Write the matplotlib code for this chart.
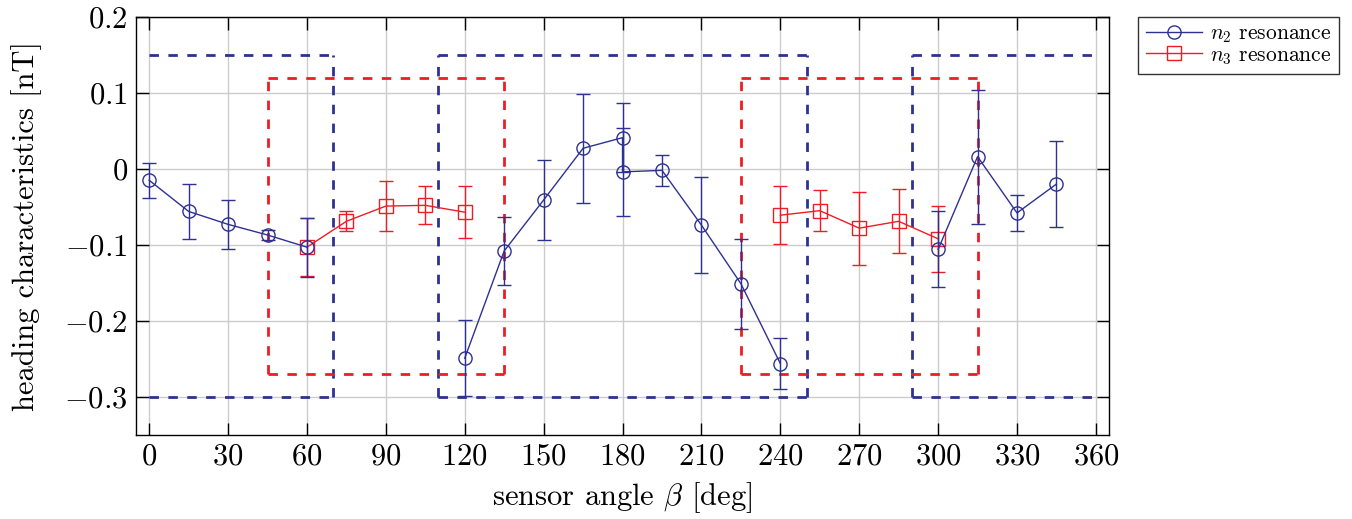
import numpy as np
import matplotlib
matplotlib.use("Agg")
import matplotlib.pyplot as plt
from matplotlib.lines import Line2D

plt.rcParams['font.family'] = ['cmr10', 'DejaVu Serif']
plt.rcParams['mathtext.fontset'] = 'cm'
plt.rcParams['axes.unicode_minus'] = False

# ---- data ----
n2_angle = [0, 15, 30, 45, 60, 75, 90, 105, 120, 135, 150, 165, 180, 180, 195,
            210, 225, 240, 255, 270, 285, 300, 315, 330, 345]
n2_value = [-0.015, -0.056, -0.073, -0.087, -0.103, np.nan, np.nan, np.nan,
            -0.249, -0.108, -0.041, 0.027, 0.041, -0.004, -0.002,
            -0.074, -0.151, -0.256, np.nan, np.nan, np.nan,
            -0.106, 0.016, -0.058, -0.020]
n2_err = [0.023, 0.036, 0.032, 0.007, 0.039, np.nan, np.nan, np.nan,
          0.050, 0.045, 0.052, 0.072, 0.045, 0.058, 0.020,
          0.063, 0.059, 0.033, np.nan, np.nan, np.nan,
          0.050, 0.088, 0.024, 0.056]

n3_angle = [60, 75, 90, 105, 120, 240, 255, 270, 285, 300]
n3_value = [-0.103, -0.069, -0.049, -0.048, -0.057, -0.061, -0.055, -0.078, -0.069, -0.092]
n3_err = [0.038, 0.013, 0.033, 0.025, 0.034, 0.038, 0.027, 0.048, 0.042, 0.043]
n3_break = [False, False, False, False, False, True, False, False, False, False]

blue_windows = [(0, 70), (110, 250), (290, 360)]
blue_levels = (-0.30, 0.15)
red_windows = [(45, 135), (225, 315)]
red_levels = (-0.27, 0.12)

x_ticks = list(range(0, 361, 30))
y_ticks = [-0.3, -0.2, -0.1, 0.0, 0.1, 0.2]
y_tick_labels = [r'$-0.3$', r'$-0.2$', r'$-0.1$', r'$0$', r'$0.1$', r'$0.2$']

BLUE = '#2E3192'
RED = '#EE1C24'

fig = plt.figure(figsize=(13.52, 5.19), dpi=100)
ax = fig.add_axes([0.1006, 0.1618, 0.7197, 0.806])

DASH = (3.4, 3.4)
DLW = 2.0

def draw_windows(windows, levels, color):
    lo, hi = levels
    for a, b in windows:
        ax.plot([a, b], [hi, hi], color=color, lw=DLW, dashes=DASH, zorder=2)
        ax.plot([a, b], [lo, lo], color=color, lw=DLW, dashes=DASH, zorder=2)
        for e in (a, b):
            if e not in (0, 360):
                ax.plot([e, e], [lo, hi], color=color, lw=DLW, dashes=DASH, zorder=2)

draw_windows(blue_windows, blue_levels, BLUE)
draw_windows(red_windows, red_levels, RED)

# n2 series
ax.errorbar(n2_angle, n2_value, yerr=n2_err, color=BLUE, lw=1.0, elinewidth=1.0,
            capsize=5, capthick=1.0, marker='o', ms=9.5, mfc='none', mec=BLUE,
            mew=1.0, zorder=4)

# n3 series (break line between groups)
x3 = []
y3 = []
for a, v, br in zip(n3_angle, n3_value, n3_break):
    if br:
        x3.append(np.nan)
        y3.append(np.nan)
    x3.append(a)
    y3.append(v)
ax.plot(x3, y3, color=RED, lw=1.0, zorder=3)
ax.errorbar(n3_angle, n3_value, yerr=n3_err, color=RED, lw=0, elinewidth=1.0,
            capsize=5, capthick=1.0, marker='s', ms=9.5, mfc='none', mec=RED,
            mew=1.0, zorder=3)

ax.set_xlim(-5, 365)
ax.set_ylim(-0.35, 0.2)
ax.set_xticks(x_ticks)
ax.set_xticklabels([r'$%d$' % t for t in x_ticks])
ax.set_yticks(y_ticks)
ax.set_yticklabels(y_tick_labels)
ax.tick_params(direction='in', length=9, width=1.0, labelsize=22,
               top=True, right=True, pad=6)
ax.grid(True, color='#cccccc', lw=1.0, zorder=0)
ax.set_axisbelow(True)
for s in ax.spines.values():
    s.set_linewidth(1.0)

ax.set_xlabel(r'sensor angle $\beta$ [deg]', fontsize=22, labelpad=7)
ax.set_ylabel('heading characteristics [nT]', fontsize=22, labelpad=16)

handles = [
    Line2D([], [], color=BLUE, lw=1.0, marker='o', ms=9.5, mfc='none', mec=BLUE),
    Line2D([], [], color=RED, lw=1.0, marker='s', ms=9.5, mfc='none', mec=RED),
]
labels = [r'$n_2$ resonance', r'$n_3$ resonance']
leg = ax.legend(handles, labels, loc='upper left', bbox_to_anchor=(1.03, 1.0),
                fontsize=15.5, frameon=True, fancybox=False, edgecolor='black',
                borderaxespad=0, handlelength=2.6, handletextpad=0.4,
                borderpad=0.35, labelspacing=0.0)
leg.get_frame().set_linewidth(1.0)

fig.savefig('out.png', dpi=100)
